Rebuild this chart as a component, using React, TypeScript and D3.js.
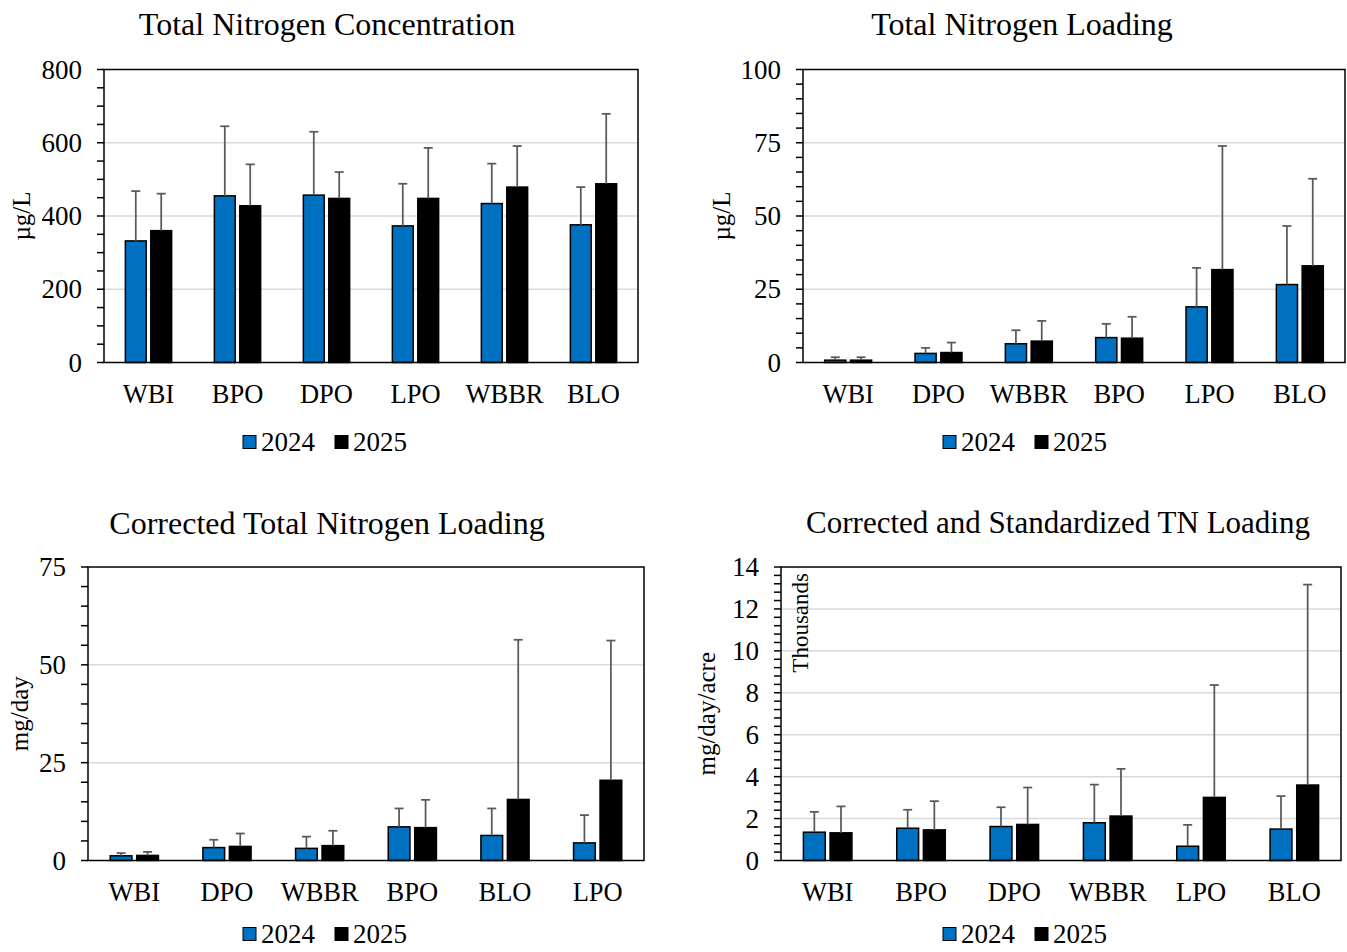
import React from "react";
import * as d3 from "d3";

// ---------- DATA ----------
const series = ["2024", "2025"];
const seriesColors = ["#0070C0", "#000000"];

const concCategories = ["WBI", "BPO", "DPO", "LPO", "WBBR", "BLO"];
const conc2024 = [332, 455, 457, 373, 434, 376];
const conc2025 = [360, 428, 448, 448, 479, 488];
const concErr2024 = [468, 645, 630, 488, 543, 479];
const concErr2025 = [461, 541, 520, 586, 591, 679];
const concTicks = [0, 200, 400, 600, 800];

const loadCategories = ["WBI", "DPO", "WBBR", "BPO", "LPO", "BLO"];
const load2024 = [0.8, 3.1, 6.4, 8.5, 19.0, 26.6];
const load2025 = [0.8, 3.4, 7.3, 8.3, 31.7, 33.0];
const loadErr2024 = [1.8, 5.0, 11.0, 13.2, 32.3, 46.6];
const loadErr2025 = [1.8, 6.8, 14.2, 15.6, 73.9, 62.7];
const loadTicks = [0, 25, 50, 75, 100];

const corrCategories = ["WBI", "DPO", "WBBR", "BPO", "BLO", "LPO"];
const corr2024 = [1.2, 3.3, 3.1, 8.6, 6.4, 4.5];
const corr2025 = [1.3, 3.6, 3.8, 8.4, 15.6, 20.5];
const corrErr2024 = [1.9, 5.3, 6.1, 13.3, 13.3, 11.6];
const corrErr2025 = [2.2, 6.9, 7.6, 15.5, 56.4, 56.2];
const corrTicks = [0, 25, 50, 75];

const stdCategories = ["WBI", "BPO", "DPO", "WBBR", "LPO", "BLO"];
const std2024 = [1.35, 1.54, 1.62, 1.8, 0.68, 1.5];
const std2025 = [1.32, 1.46, 1.72, 2.12, 3.01, 3.6];
const stdErr2024 = [2.32, 2.42, 2.54, 3.62, 1.7, 3.07];
const stdErr2025 = [2.58, 2.83, 3.48, 4.37, 8.37, 13.16];
const stdTicks = [0, 2, 4, 6, 8, 10, 12, 14];

// ---------- STYLE ----------
const FONT = "'Liberation Serif', 'Times New Roman', serif";

type PanelProps = {
  title: string;
  yLabel: string;
  categories: string[];
  values: number[][];
  errors: number[][];
  ticks: number[];
  minorStep: number;
  yMax: number;
  left: number;
  right: number;
  top: number;
  bottom: number;
  titleX: number;
  titleY: number;
  titleSize: number;
  yLabelX: number;
  legendX: number;
  legendY: number;
  gridTicks: number[];
  extraLabel?: string;
};

function Panel(p: PanelProps) {
  const x = d3
    .scaleBand<string>()
    .domain(p.categories)
    .range([p.left, p.right])
    .paddingInner(0.48)
    .paddingOuter(0.24);
  const xi = d3
    .scaleBand<string>()
    .domain(series)
    .range([0, x.bandwidth()])
    .paddingInner(0.18);
  const y = d3.scaleLinear().domain([0, p.yMax]).range([p.bottom, p.top]);
  const minor = d3.range(0, p.yMax + p.minorStep / 2, p.minorStep);
  const capHalf = 4.5;
  const legendItemW = 92;

  return (
    <g>
      <text
        x={p.titleX}
        y={p.titleY}
        textAnchor="middle"
        fontFamily={FONT}
        fontSize={p.titleSize}
        fill="#000"
      >
        {p.title}
      </text>
      {p.gridTicks.map((t) => (
        <line
          key={"g" + t}
          x1={p.left}
          x2={p.right}
          y1={y(t)}
          y2={y(t)}
          stroke="#d9d9d9"
          strokeWidth={1.5}
        />
      ))}
      {/* bars */}
      {p.categories.map((c, i) =>
        series.map((s, si) => {
          const v = p.values[si][i];
          const bx = (x(c) as number) + (xi(s) as number);
          const bw = xi.bandwidth();
          return (
            <rect
              key={c + s}
              x={bx}
              y={y(v)}
              width={bw}
              height={p.bottom - y(v)}
              fill={seriesColors[si]}
              stroke="#000"
              strokeWidth={1.5}
            />
          );
        })
      )}
      {/* error bars */}
      {p.categories.map((c, i) =>
        series.map((s, si) => {
          const v = p.values[si][i];
          const e = p.errors[si][i];
          const cx = (x(c) as number) + (xi(s) as number) + xi.bandwidth() / 2;
          return (
            <g key={"e" + c + s} stroke="#595959" strokeWidth={1.75}>
              <line x1={cx} x2={cx} y1={y(v)} y2={y(e)} />
              <line x1={cx - capHalf} x2={cx + capHalf} y1={y(e)} y2={y(e)} />
            </g>
          );
        })
      )}
      {/* frame */}
      <rect
        x={p.left}
        y={p.top}
        width={p.right - p.left}
        height={p.bottom - p.top}
        fill="none"
        stroke="#000"
        strokeWidth={1.5}
      />
      {/* ticks */}
      {minor.map((t) => (
        <line
          key={"m" + t}
          x1={p.left - 7}
          x2={p.left}
          y1={y(t)}
          y2={y(t)}
          stroke="#000"
          strokeWidth={1.5}
        />
      ))}
      {p.ticks.map((t) => (
        <text
          key={"t" + t}
          x={p.left - 22}
          y={y(t)}
          dy="0.34em"
          textAnchor="end"
          fontFamily={FONT}
          fontSize={27}
          fill="#000"
        >
          {t}
        </text>
      ))}
      {p.categories.map((c) => (
        <text
          key={"x" + c}
          x={(x(c) as number) + x.bandwidth() / 2}
          y={p.bottom + 40}
          textAnchor="middle"
          fontFamily={FONT}
          fontSize={26.5}
          fill="#000"
        >
          {c}
        </text>
      ))}
      <text
        transform={`translate(${p.yLabelX},${(p.top + p.bottom) / 2}) rotate(-90)`}
        textAnchor="middle"
        fontFamily={FONT}
        fontSize={25}
        fill="#000"
      >
        {p.yLabel}
      </text>
      {p.extraLabel && (
        <text
          transform={`translate(${p.left + 27},${p.top + 6}) rotate(-90)`}
          textAnchor="end"
          fontFamily={FONT}
          fontSize={23}
          fill="#000"
        >
          {p.extraLabel}
        </text>
      )}
      {/* legend */}
      {series.map((s, si) => {
        const lx = p.legendX - legendItemW + si * legendItemW;
        return (
          <g key={"l" + s}>
            <rect
              x={lx}
              y={p.legendY - 6.5}
              width={13}
              height={13}
              fill={seriesColors[si]}
              stroke="#000"
              strokeWidth={1}
            />
            <text
              x={lx + 18}
              y={p.legendY}
              dy="0.34em"
              fontFamily={FONT}
              fontSize={27}
              fill="#000"
            >
              {s}
            </text>
          </g>
        );
      })}
    </g>
  );
}

export default function App() {
  return (
    <svg
      width={1347}
      height={952}
      style={{ position: "absolute", left: 0, top: 0, background: "#fff" }}
    >
      <rect x={0} y={0} width={1347} height={952} fill="#fff" />
      <Panel
        title="Total Nitrogen Concentration"
        yLabel="µg/L"
        categories={concCategories}
        values={[conc2024, conc2025]}
        errors={[concErr2024, concErr2025]}
        ticks={concTicks}
        gridTicks={[200, 400, 600]}
        minorStep={50}
        yMax={800}
        left={104}
        right={638}
        top={69.5}
        bottom={362.5}
        titleX={327}
        titleY={35}
        titleSize={32}
        yLabelX={30}
        legendX={335}
        legendY={442}
      />
      <Panel
        title="Total Nitrogen Loading"
        yLabel="µg/L"
        categories={loadCategories}
        values={[load2024, load2025]}
        errors={[loadErr2024, loadErr2025]}
        ticks={loadTicks}
        gridTicks={[25, 50, 75]}
        minorStep={5}
        yMax={100}
        left={803}
        right={1345}
        top={69.5}
        bottom={362.5}
        titleX={1022}
        titleY={35}
        titleSize={32}
        yLabelX={730}
        legendX={1035}
        legendY={442}
      />
      <Panel
        title="Corrected Total Nitrogen Loading"
        yLabel="mg/day"
        categories={corrCategories}
        values={[corr2024, corr2025]}
        errors={[corrErr2024, corrErr2025]}
        ticks={corrTicks}
        gridTicks={[25, 50]}
        minorStep={5}
        yMax={75}
        left={88}
        right={644}
        top={567}
        bottom={860.5}
        titleX={327}
        titleY={534}
        titleSize={32}
        yLabelX={28}
        legendX={335}
        legendY={934}
      />
      <Panel
        title="Corrected and Standardized TN Loading"
        yLabel="mg/day/acre"
        categories={stdCategories}
        values={[std2024, std2025]}
        errors={[stdErr2024, stdErr2025]}
        ticks={stdTicks}
        gridTicks={[2, 4, 6, 8, 10, 12]}
        minorStep={0.4}
        yMax={14}
        left={781}
        right={1341}
        top={567}
        bottom={860.5}
        titleX={1058}
        titleY={533}
        titleSize={31}
        yLabelX={715}
        legendX={1035}
        legendY={934}
        extraLabel="Thousands"
      />
    </svg>
  );
}
